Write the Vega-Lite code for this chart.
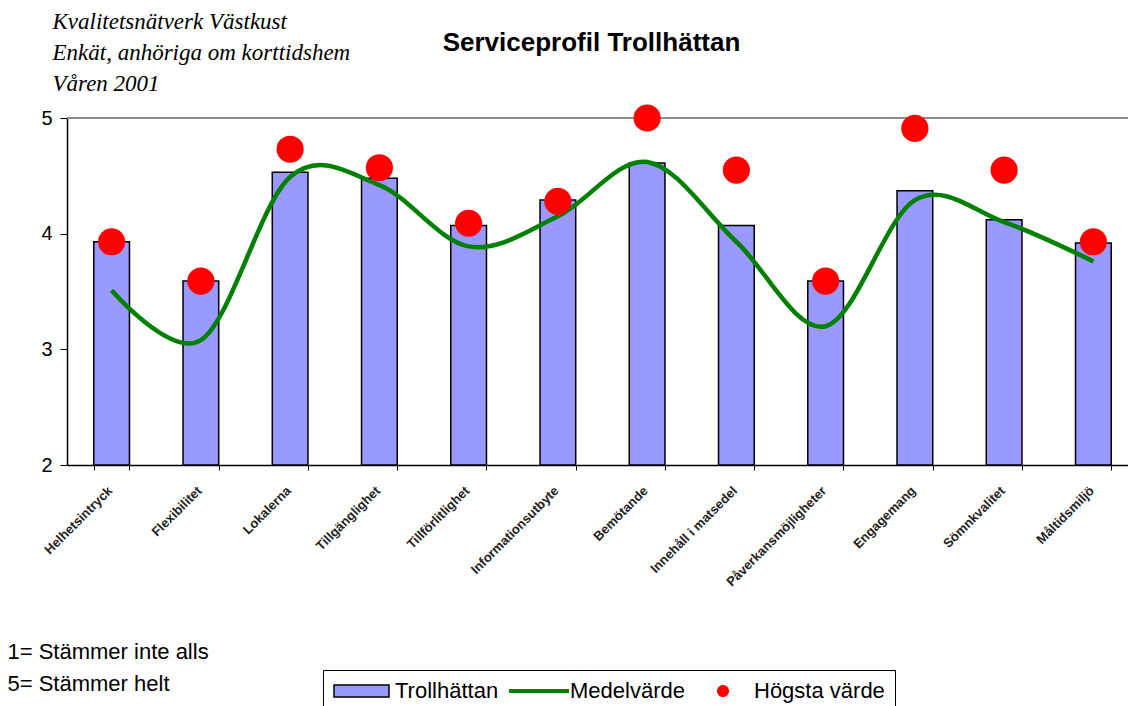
{
  "$schema": "https://vega.github.io/schema/vega-lite/v6.json",
  "autosize": "none",
  "width": 1061,
  "height": 347,
  "padding": {"left": 67, "top": 118, "right": 0, "bottom": 241},
  "background": "white",
  "title": {
    "text": "Serviceprofil Trollhättan",
    "font": "Liberation Sans",
    "fontSize": 26,
    "fontWeight": "bold",
    "color": "black",
    "frame": "group",
    "anchor": "middle",
    "baseline": "alphabetic",
    "dx": -6,
    "offset": -67
  },
  "data": {
    "values": [
      {"kat": "Helhetsintryck", "troll": 3.93, "medel": 3.51, "hogsta": 3.93},
      {"kat": "Flexibilitet", "troll": 3.59, "medel": 3.08, "hogsta": 3.59},
      {"kat": "Lokalerna", "troll": 4.53, "medel": 4.49, "hogsta": 4.73},
      {"kat": "Tillgänglighet", "troll": 4.48, "medel": 4.42, "hogsta": 4.57},
      {"kat": "Tillförlitlighet", "troll": 4.07, "medel": 3.89, "hogsta": 4.09},
      {"kat": "Informationsutbyte", "troll": 4.29, "medel": 4.15, "hogsta": 4.28},
      {"kat": "Bemötande", "troll": 4.61, "medel": 4.62, "hogsta": 5.0},
      {"kat": "Innehåll i matsedel", "troll": 4.07, "medel": 3.93, "hogsta": 4.55},
      {"kat": "Påverkansmöjligheter", "troll": 3.59, "medel": 3.2, "hogsta": 3.59},
      {"kat": "Engagemang", "troll": 4.37, "medel": 4.29, "hogsta": 4.91},
      {"kat": "Sömnkvalitet", "troll": 4.12, "medel": 4.1, "hogsta": 4.55},
      {"kat": "Måltidsmiljö", "troll": 3.92, "medel": 3.76, "hogsta": 3.93}
    ]
  },
  "layer": [
    {
      "mark": {"type": "rule", "color": "#8c8c8c", "strokeWidth": 2},
      "encoding": {"y": {"datum": 5, "type": "quantitative"}}
    },
    {
      "mark": {"type": "bar", "color": "#9999FF", "stroke": "black", "strokeWidth": 1.5},
      "encoding": {
        "x": {
          "field": "kat",
          "type": "nominal",
          "sort": null,
          "scale": {"range": [0, 1071], "paddingInner": 0.6, "paddingOuter": 0.3},
          "axis": {
            "title": ["1= Stämmer inte alls", "5= Stämmer helt"],
            "titleFont": "Liberation Sans",
            "titleFontSize": 22,
            "titleFontWeight": "normal",
            "titleColor": "black",
            "titleAlign": "left",
            "titleAnchor": "start",
            "titleBaseline": "alphabetic",
            "titleX": -60,
            "titleY": 193,
            "titleLineHeight": 32,
            "labelAngle": -45,
            "labelFont": "Liberation Sans",
            "labelFontSize": 13,
            "labelFontWeight": "bold",
            "labelColor": "#222222",
            "labelPadding": 14,
            "labelOffset": -6,
            "labelLimit": 0,
            "tickBand": "extent",
            "tickSize": 5,
            "tickColor": "black",
            "domainColor": "black",
            "domainWidth": 1.5,
            "grid": false
          }
        },
        "y": {
          "field": "troll",
          "type": "quantitative",
          "scale": {"domain": [2, 5], "zero": false, "nice": false},
          "axis": {
            "values": [2, 3, 4, 5],
            "format": "d",
            "grid": false,
            "title": ["Kvalitetsnätverk Västkust", "Enkät, anhöriga om korttidshem", "Våren 2001"],
            "titleAngle": 0,
            "titleAlign": "left",
            "titleBaseline": "alphabetic",
            "titleX": -15,
            "titleY": -90,
            "titleLineHeight": 31,
            "titleFont": "Liberation Serif",
            "titleFontStyle": "italic",
            "titleFontWeight": "normal",
            "titleFontSize": 23,
            "titleColor": "black",
            "labelFont": "Liberation Sans",
            "labelFontSize": 20,
            "labelColor": "black",
            "labelPadding": 8,
            "tickSize": 7,
            "tickColor": "black",
            "domainColor": "black",
            "domainWidth": 1.5
          }
        },
        "y2": {"datum": 2}
      }
    },
    {
      "mark": {"type": "line", "color": "#008000", "strokeWidth": 4.5, "interpolate": "cardinal"},
      "encoding": {
        "x": {"field": "kat", "type": "nominal", "sort": null},
        "y": {"field": "medel", "type": "quantitative"}
      }
    },
    {
      "mark": {"type": "point", "filled": true, "opacity": 1, "size": 740},
      "encoding": {
        "x": {"field": "kat", "type": "nominal", "sort": null},
        "y": {"field": "hogsta", "type": "quantitative"},
        "color": {
          "datum": "Högsta värde",
          "scale": {"domain": ["Trollhättan", "Medelvärde", "Högsta värde"], "range": ["#9999FF", "#008000", "#FF0000"]},
          "legend": {
            "title": null,
            "orient": "none",
            "legendX": 256,
            "legendY": 552,
            "direction": "horizontal",
            "columns": 3,
            "padding": 10,
            "strokeColor": "black",
            "fillColor": "white",
            "symbolSize": 400,
            "symbolType": {"expr": "datum.value === 'Trollhättan' ? 'M-1,-0.6H4.5V0.6H-1Z' : datum.value === 'Medelvärde' ? 'M-1,-0.2H5V0.2H-1Z' : 'M1.4,0A0.6,0.6 0 1,0 2.6,0A0.6,0.6 0 1,0 1.4,0Z'"},
            "symbolStrokeColor": {"expr": "datum.value === 'Trollhättan' ? 'black' : 'transparent'"},
            "symbolStrokeWidth": 1.5,
            "symbolOpacity": 1,
            "labelOffset": 40,
            "columnPadding": 7,
            "labelFont": "Liberation Sans",
            "labelFontSize": 22,
            "labelColor": "black",
            "labelLimit": 0
          }
        }
      }
    }
  ],
  "config": {"view": {"stroke": null}}
}
